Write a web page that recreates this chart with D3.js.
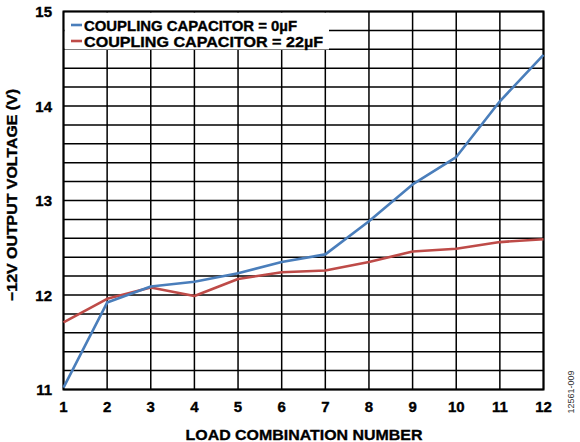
<!DOCTYPE html>
<html><head><meta charset="utf-8">
<script src="https://cdn.jsdelivr.net/npm/d3@7"></script>
<style>body{margin:0;background:#fff}svg{display:block}text{font-family:"Liberation Sans",Arial,sans-serif;font-weight:bold}
text.heavy{stroke:#000;stroke-width:0.35px}</style>
</head><body>
<svg id="c" width="580" height="442"></svg>
<script>
const loads = [1,2,3,4,5,6,7,8,9,10,11,12];
const cap0 = [11.02,11.92,12.09,12.14,12.23,12.35,12.43,12.78,13.17,13.46,14.05,14.54];
const cap22 = [11.71,11.96,12.08,11.99,12.17,12.24,12.26,12.35,12.46,12.49,12.56,12.59];
const seriesNames = ["COUPLING CAPACITOR = 0\u00b5F","COUPLING CAPACITOR = 22\u00b5F"];
const seriesColors = ["#4a7ebb","#be4b48"];
const yTicks = [11,12,13,14,15];

const svg = d3.select("#c");
const L=63.5,R=543.5,T=11.5,B=389.5;
const x = d3.scaleLinear().domain([1,12]).range([L,R]);
const y = d3.scaleLinear().domain([11,15]).range([B,T]);

// grid
const g = svg.append("g");
g.selectAll("line.h").data(d3.range(11,15.001,0.2)).join("line")
  .attr("x1",L).attr("x2",R).attr("y1",d=>y(d)).attr("y2",d=>y(d))
  .attr("stroke","#000").attr("stroke-width",1.5);
g.selectAll("line.v").data(loads).join("line")
  .attr("x1",d=>x(d)).attr("x2",d=>x(d)).attr("y1",T).attr("y2",B)
  .attr("stroke","#000").attr("stroke-width",1.5);

// legend background
svg.append("rect").attr("x",L+1).attr("y",T+1).attr("width",329-L-1).attr("height",49.5-T-1).attr("fill","#fff");

// frame
svg.append("rect").attr("x",L).attr("y",T).attr("width",R-L).attr("height",B-T)
  .attr("fill","none").attr("stroke","#000").attr("stroke-width",2);

// lines
const line = d3.line().x((d,i)=>x(loads[i])).y(d=>y(d));
[cap22,cap0].forEach((s,k)=>{
  const idx = 1-k;
  svg.append("path").attr("d",line(s)).attr("fill","none")
    .attr("stroke",seriesColors[idx]).attr("stroke-width",2.6).attr("stroke-linejoin","round");
});

// legend
const legW = [213,239];
seriesNames.forEach((n,i)=>{
  const yy = 25+i*16;
  svg.append("line").attr("x1",71).attr("x2",82).attr("y1",yy).attr("y2",yy)
    .attr("stroke",seriesColors[i]).attr("stroke-width",2.6);
  svg.append("text").attr("class","heavy").attr("x",84).attr("y",yy+5.5).attr("font-size",14.5)
    .attr("textLength",legW[i]).attr("lengthAdjust","spacingAndGlyphs").text(n);
});

// y ticks
svg.selectAll("text.yt").data(yTicks).join("text").attr("class","heavy")
  .attr("x",52).attr("y",d=>y(d)+5.5).attr("text-anchor","end").attr("font-size",15).text(d=>d);
// x ticks
svg.selectAll("text.xt").data(loads).join("text").attr("class","heavy")
  .attr("x",d=>x(d)).attr("y",412).attr("text-anchor","middle").attr("font-size",15).text(d=>d);

svg.append("text").attr("class","heavy").attr("x",304).attr("y",440).attr("text-anchor","middle").attr("font-size",15.5)
  .attr("textLength",237).attr("lengthAdjust","spacingAndGlyphs").text("LOAD COMBINATION NUMBER");
svg.append("text").attr("class","heavy").attr("transform","translate(17,195) rotate(-90)").attr("text-anchor","middle").attr("font-size",15)
  .attr("textLength",212).attr("lengthAdjust","spacingAndGlyphs").text("\u221212V OUTPUT VOLTAGE (V)");
svg.append("text").attr("transform","translate(574,392) rotate(-90)").attr("text-anchor","middle")
  .attr("font-size",9).style("font-weight","normal").attr("fill","#333").text("12561-009");
</script>
</body></html>
